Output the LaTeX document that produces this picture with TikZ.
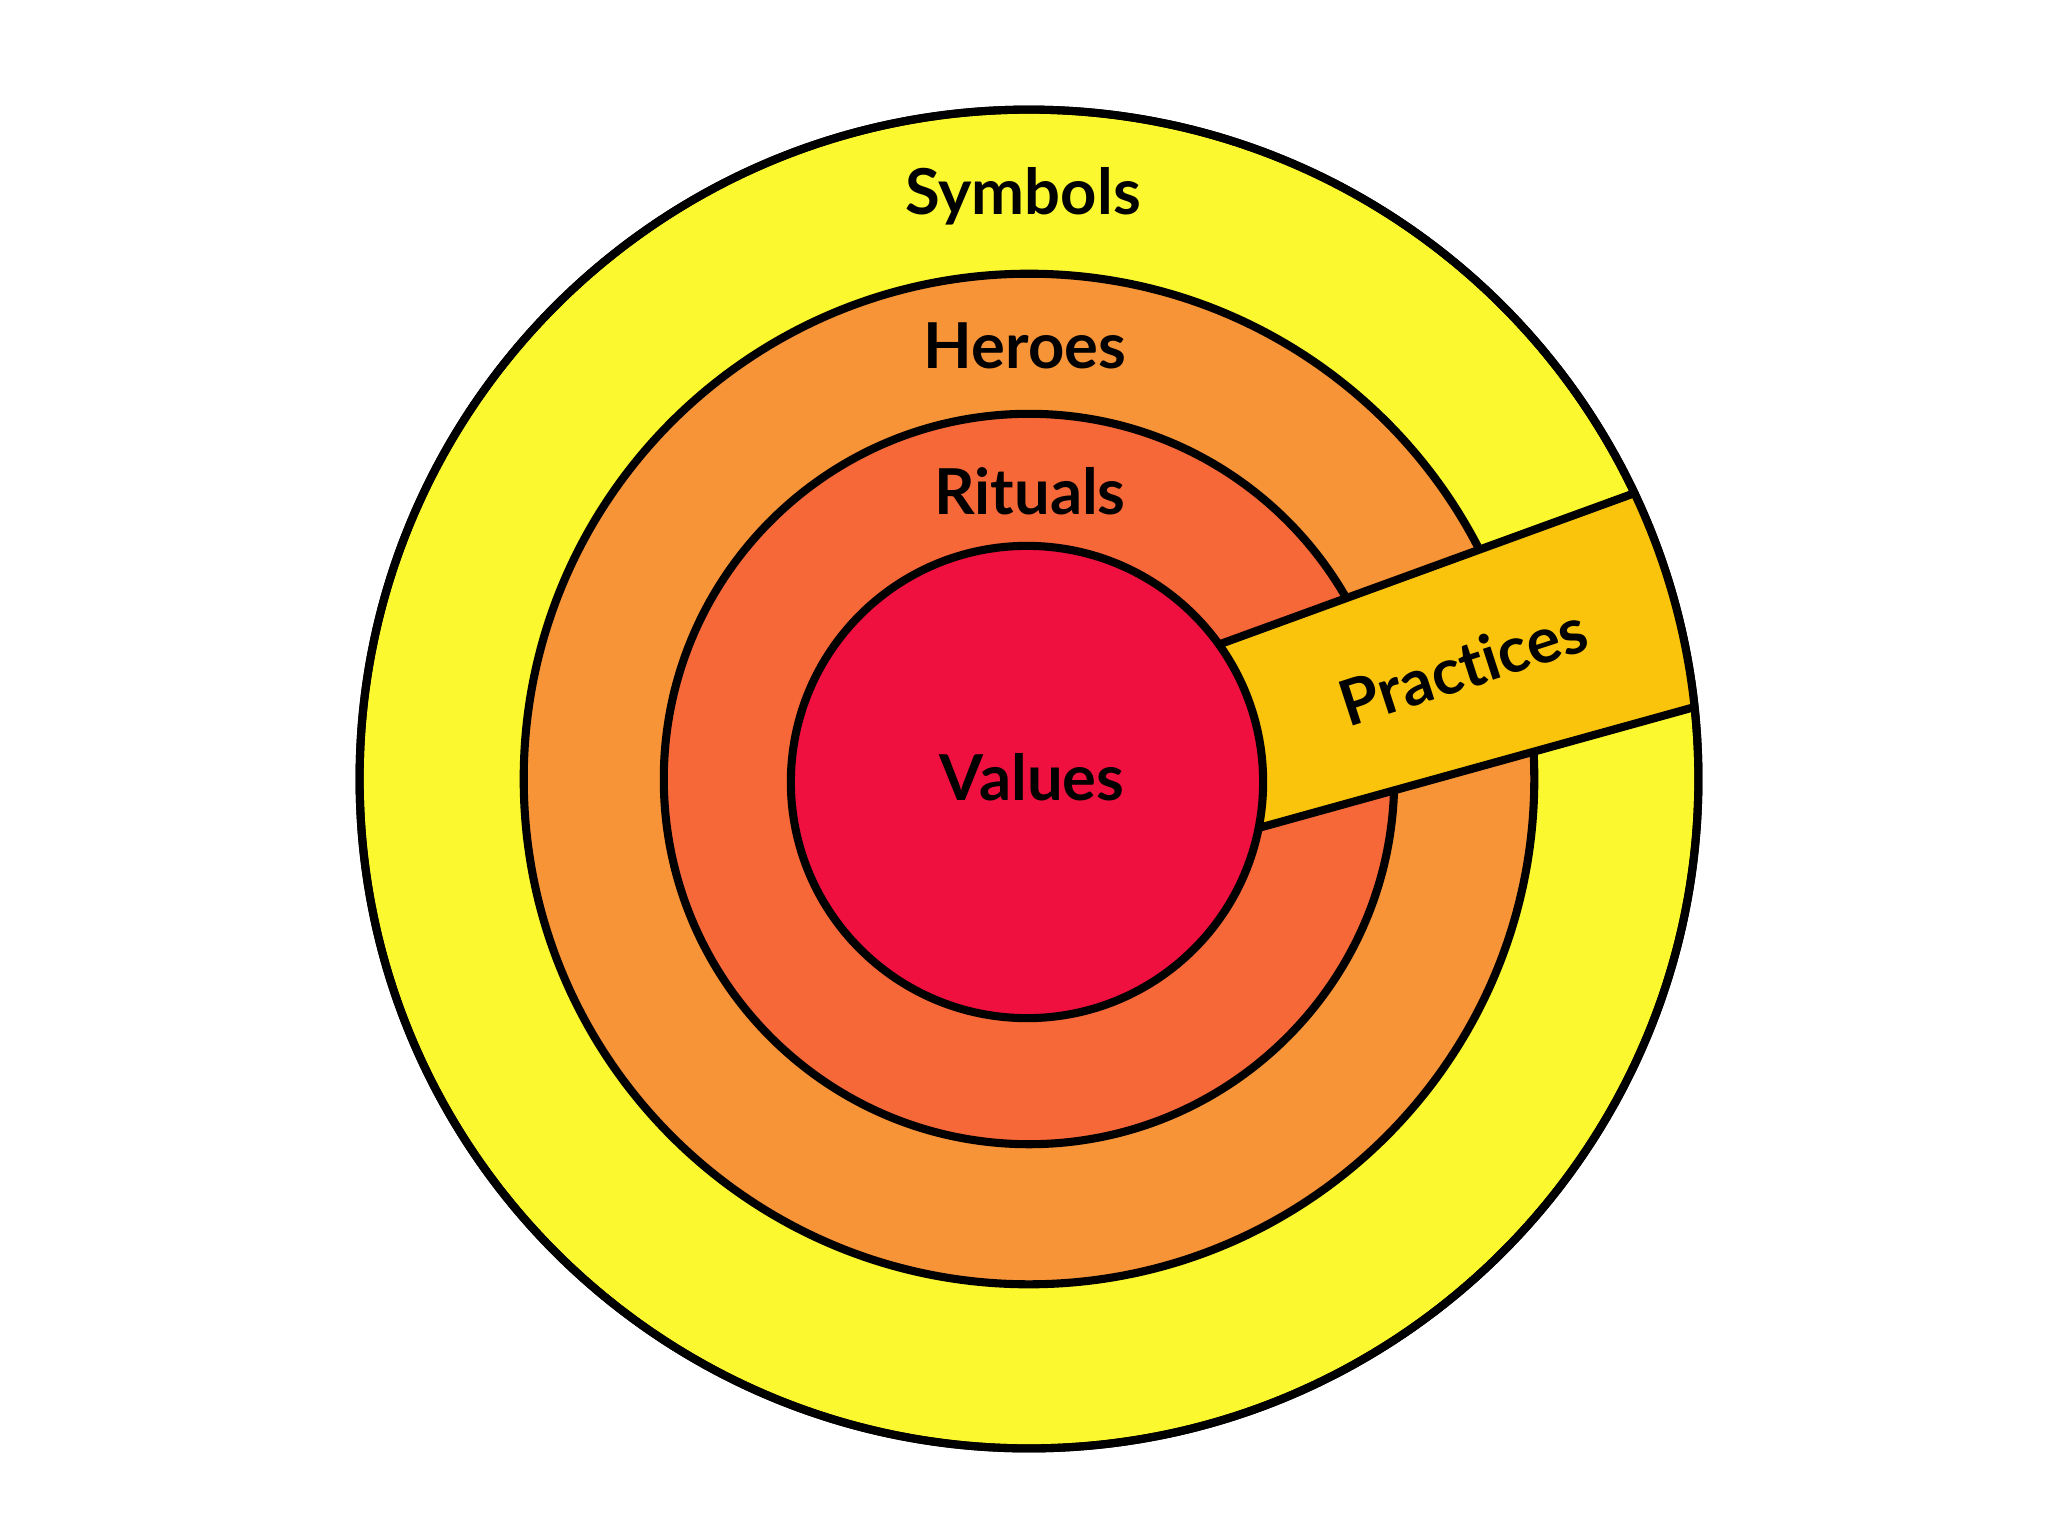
\documentclass[tikz,border=0pt]{standalone}
\usepackage{fontspec}
\setsansfont{Lato}[Ligatures={NoCommon,NoDiscretionary}]
\usepackage{xcolor}

\definecolor{symbolsyellow}{RGB}{252,248,48}
\definecolor{heroesorange}{RGB}{248,148,56}
\definecolor{ritualsorange}{RGB}{247,104,56}
\definecolor{valuesred}{RGB}{240,16,64}
\definecolor{practicesgold}{RGB}{250,196,12}

\begin{document}
\begin{tikzpicture}[
    x=0.01cm, y=-0.01cm,
    ring/.style={draw=black, line width=2.3pt},
    lbl/.style={font=\sffamily\bfseries\fontsize{18}{20}\selectfont, text=black, inner sep=0pt},
]
    \useasboundingbox (0,0) rectangle (2048,1536);
    \fill[white] (0,0) rectangle (2048,1536);

    \coordinate (c) at (1029,779);

    % Rings, outside in
    \filldraw[ring, fill=symbolsyellow] (c) circle (6.69cm);
    \filldraw[ring, fill=heroesorange] (c) circle (5.05cm);
    \filldraw[ring, fill=ritualsorange] (c) circle (3.65cm);

    % Practices band
    \begin{scope}
        \clip (c) circle (6.69cm);
        \filldraw[ring, fill=practicesgold] (1105,686) -- (1753,450) -- (1821,672) -- (1143,860) -- cycle;
    \end{scope}
    \draw[ring] (c) circle (6.69cm);

    % Core
    \filldraw[ring, fill=valuesred] (1027,782) circle (2.36cm);

    % Labels
    \node[lbl] (symbols) at (1023,196) {Symbols};
    \node[lbl] (heroes) at (1025,346) {Heroes};
    \node[lbl] (rituals) at (1030,491) {Rituals};
    \node[lbl] (values) at (1032,777) {Values};
    \node[lbl, rotate=18] (practices) at (1463,666) {Practices};
\end{tikzpicture}
\end{document}
